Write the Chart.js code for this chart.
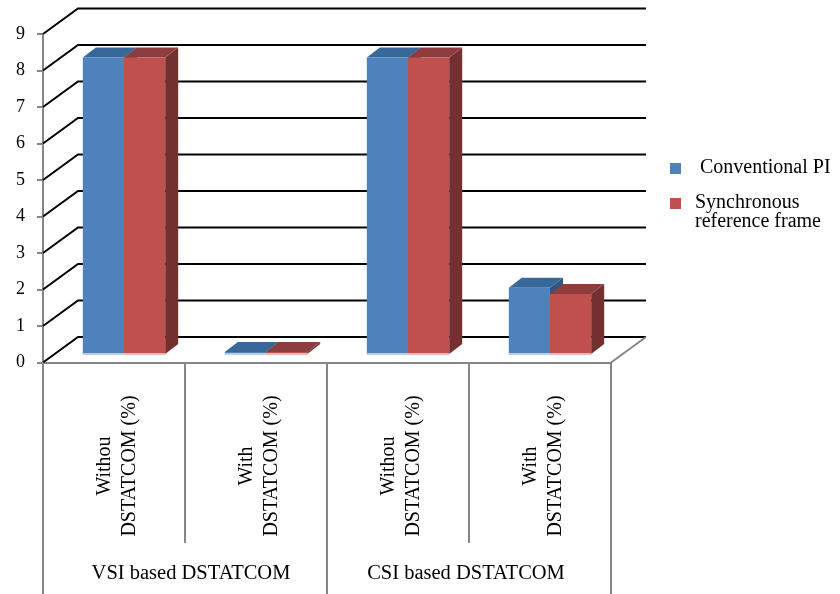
<!DOCTYPE html>
<html>
<head>
<meta charset="utf-8">
<script src="https://cdn.jsdelivr.net/npm/chart.js@4.4.0/dist/chart.umd.min.js"></script>
<style>
  html, body { margin: 0; padding: 0; background: #fff; }
</style>
</head>
<body>
<canvas id="chartCanvas" width="840" height="594"></canvas>
<script>
const categories = [
  ['Withou', 'DSTATCOM (%)'],
  ['With', 'DSTATCOM (%)'],
  ['Withou', 'DSTATCOM (%)'],
  ['With', 'DSTATCOM (%)']
];
const groups = ['VSI based DSTATCOM', 'CSI based DSTATCOM'];
const seriesNames = ['Conventional PI', 'Synchronous reference frame'];
const conventionalPI = [8.15, 0.08, 8.15, 1.84];
const synchronousFrame = [8.15, 0.08, 8.15, 1.67];
const yTicks = [0, 1, 2, 3, 4, 5, 6, 7, 8, 9];

const FONT = '"Liberation Serif", "Times New Roman", serif';
const AXIS_GRAY = '#868686';
const wall = { dx: 35, dy: -25.5 };   // back wall offset
const plane = { dx: 10, dy: -7.5 };   // bars stand a little behind the front edge
const depth = { dx: 13, dy: -10 };    // thickness of a bar

const faces = [
  { front: '#4F81BD', top: '#38679A', side: '#2E5680', foot: '#B9CDE5' },
  { front: '#C0504D', top: '#8E3D3C', side: '#73302F', foot: '#E6B9B8' }
];

function poly(ctx, pts, color) {
  ctx.beginPath();
  ctx.moveTo(pts[0][0], pts[0][1]);
  for (let i = 1; i < pts.length; i++) ctx.lineTo(pts[i][0], pts[i][1]);
  ctx.closePath();
  ctx.fillStyle = color;
  ctx.fill();
}

function wrap(ctx, text, maxW) {
  const words = text.split(' ');
  const lines = [];
  let cur = '';
  words.forEach(w => {
    const test = cur ? cur + ' ' + w : w;
    if (ctx.measureText(test).width > maxW && cur) {
      lines.push(cur);
      cur = w;
    } else {
      cur = test;
    }
  });
  if (cur) lines.push(cur);
  return lines;
}

const box3d = {
  id: 'box3d',
  beforeDatasetsDraw(chart) {
    const { ctx, chartArea: a, scales: { y } } = chart;

    // side wall and back wall lines
    ctx.save();
    ctx.strokeStyle = '#000';
    ctx.lineWidth = 2;
    yTicks.forEach(v => {
      const py = y.getPixelForValue(v);
      ctx.beginPath();
      ctx.moveTo(a.left, py);
      ctx.lineTo(a.left + wall.dx, py + wall.dy);
      ctx.lineTo(a.right + wall.dx, py + wall.dy);
      ctx.stroke();
    });
    ctx.strokeStyle = AXIS_GRAY;
    ctx.beginPath();
    ctx.moveTo(a.right, a.bottom);
    ctx.lineTo(a.right + wall.dx, a.bottom + wall.dy);
    ctx.stroke();
    ctx.restore();

    // move into the bar plane; restored after the datasets are drawn
    ctx.save();
    ctx.translate(plane.dx, plane.dy);

    const metas = chart.data.datasets.map((d, i) => chart.getDatasetMeta(i));
    categories.forEach((c, i) => {
      metas.forEach((m, di) => {
        const el = m.data[i];
        const l = el.x - el.width / 2, r = el.x + el.width / 2;
        const t = el.y, b = el.base;
        poly(ctx, [[r, t], [r + depth.dx, t + depth.dy], [r + depth.dx, b + depth.dy], [r, b]], faces[di].side);
        poly(ctx, [[l, t], [l + depth.dx, t + depth.dy], [r + depth.dx, t + depth.dy], [r, t]], faces[di].top);
      });
    });
  },
  afterDatasetsDraw(chart) {
    const { ctx } = chart;
    chart.data.datasets.forEach((d, di) => {
      chart.getDatasetMeta(di).data.forEach(el => {
        ctx.fillStyle = faces[di].foot;
        ctx.fillRect(el.x - el.width / 2, el.base - 1, el.width, 2);
      });
    });
    ctx.restore();
  },
  afterDraw(chart) {
    const { ctx, chartArea: a } = chart;
    const H = chart.height;
    const step = (a.right - a.left) / categories.length;

    // category and group dividers
    ctx.save();
    ctx.strokeStyle = AXIS_GRAY;
    ctx.lineWidth = 2;
    for (let i = 0; i <= categories.length; i++) {
      const x = Math.round(a.left + i * step);
      ctx.beginPath();
      ctx.moveTo(x, a.bottom);
      ctx.lineTo(x, i % 2 === 0 ? H : 543);
      ctx.stroke();
    }

    // rotated category labels
    ctx.fillStyle = '#000';
    ctx.font = '20px ' + FONT;
    ctx.textAlign = 'center';
    ctx.textBaseline = 'middle';
    categories.forEach((lines, i) => {
      const cx = a.left + (i + 0.5) * step + 3;
      ctx.save();
      ctx.translate(cx, 466);
      ctx.rotate(-Math.PI / 2);
      lines.forEach((s, j) => {
        ctx.fillText(s, 0, (j - (lines.length - 1) / 2) * 25);
      });
      ctx.restore();
    });

    // group labels
    ctx.font = '20.5px ' + FONT;
    groups.forEach((g, k) => {
      const cx = a.left + (k * 2 + 1) * step + (k === 0 ? 6 : -3);
      ctx.fillText(g, cx, 574);
    });

    // legend
    ctx.font = '20px ' + FONT;
    ctx.textAlign = 'left';
    let ly = 168;
    seriesNames.forEach((name, di) => {
      ctx.fillStyle = faces[di].front;
      ctx.fillRect(670, ly - 5, 11, 11);
      ctx.fillStyle = '#000';
      const lines = wrap(ctx, name, 140);
      lines.forEach((s, j) => {
        ctx.fillText(s, 695 + (lines.length === 1 ? 5 : 0), ly + j * 19);
      });
      ly += 35 + (lines.length - 1) * 19;
    });
    ctx.restore();
  }
};

new Chart(document.getElementById('chartCanvas').getContext('2d'), {
  type: 'bar',
  data: {
    labels: categories,
    datasets: [
      {
        label: seriesNames[0],
        data: conventionalPI,
        backgroundColor: faces[0].front,
        categoryPercentage: 0.58,
        barPercentage: 1.0
      },
      {
        label: seriesNames[1],
        data: synchronousFrame,
        backgroundColor: faces[1].front,
        categoryPercentage: 0.58,
        barPercentage: 1.0
      }
    ]
  },
  options: {
    responsive: false,
    animation: false,
    layout: { padding: { top: 34, right: 229, left: 0, bottom: 0 } },
    plugins: {
      legend: { display: false },
      tooltip: { enabled: false }
    },
    scales: {
      x: {
        grid: { display: false },
        ticks: { display: false },
        border: { display: true, color: AXIS_GRAY, width: 2 },
        afterFit: s => { s.height = 231.5; }
      },
      y: {
        min: 0,
        max: 9,
        ticks: {
          stepSize: 1,
          color: '#000',
          padding: 12,
          font: { family: FONT, size: 18 }
        },
        grid: {
          drawOnChartArea: false,
          drawTicks: true,
          tickLength: 6,
          color: AXIS_GRAY,
          lineWidth: 2
        },
        border: { display: true, color: AXIS_GRAY, width: 2 },
        afterFit: s => { s.width = 43; }
      }
    }
  },
  plugins: [box3d]
});
</script>
</body>
</html>
